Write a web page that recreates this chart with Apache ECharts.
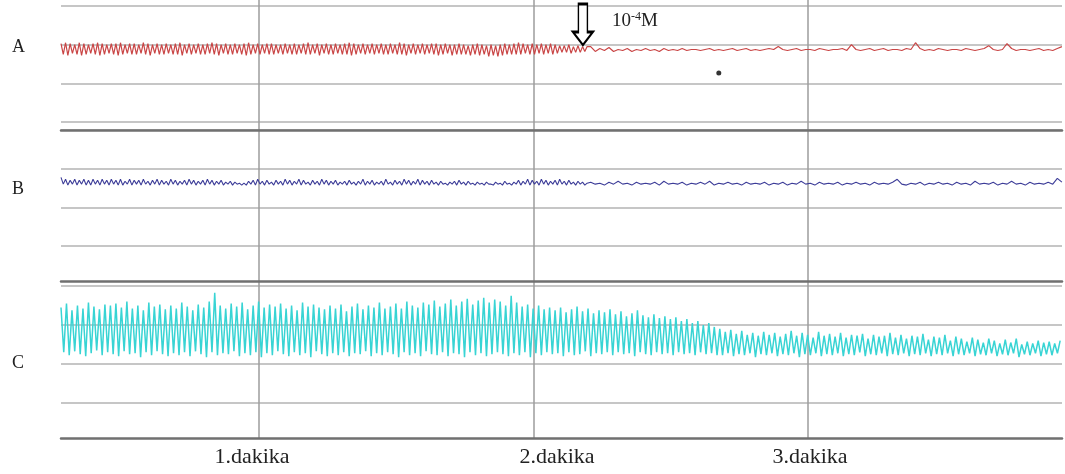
<!DOCTYPE html>
<html>
<head>
<meta charset="utf-8">
<title>A B C kayıt</title>
<script src="https://cdn.jsdelivr.net/npm/echarts@6.0.0/dist/echarts.min.js"></script>
<style>
  html, body { margin: 0; padding: 0; background: #fff; }
  #main { width: 1065px; height: 474px; }
</style>
</head>
<body>
<div id="main"></div>
<script>
// zaman ekseni (saniye)
var tStart = 16.72, tEnd = 235.52;
var tSwitch = 132.5;           // ilacın verildiği andan sonra daha seyrek örnekleme
var stepFast = 0.5, stepSlow = 1, stepC = 0.6;
var minuteTicks = [60, 120, 180];
var minuteLabels = ['1.dakika', '2.dakika', '3.dakika'];
var panelNames = ['A', 'B', 'C'];

// A kaydı (kırmızı)
var aFast = [
  81,70,82,69,81,71,80,70,82,69,81,70,80,71,81,70,82,69,81,70,
  80,71,81,70,81,69,82,70,80,71,81,70,81,70,80,71,82,70,81,69,
  80,71,81,70,80,70,81,71,80,70,81,70,82,69,80,71,81,70,80,71,
  81,70,80,70,81,71,82,70,81,69,80,71,81,70,80,70,81,71,80,70,
  81,69,82,70,80,71,81,70,80,71,81,70,81,70,80,71,80,70,81,71,
  80,70,81,70,80,71,81,70,82,70,80,71,81,69,80,71,81,70,80,70,
  81,71,80,70,81,70,82,69,81,70,80,71,81,70,80,71,81,70,80,71,
  81,70,80,70,81,71,80,70,82,70,81,69,80,71,81,70,80,71,81,70,
  80,71,81,70,81,69,80,70,81,71,80,69,80,70,81,70,80,70,79,69,
  80,70,81,69,80,70,79,68,80,69,79,68,80,69,81,70,80,70,81,70,
  82,70,81,71,80,70,81,70,80,71,81,70,80,71,81,70,80,71,79,72,
  79,72,80,71,78,72,79,72,78,73,78
];
var aSlow = [
  78,73,76,74,77,73,75,74,76,73,75,74,76,74,75,73,76,74,75,74,
  76,74,75,75,74,75,76,74,75,74,75,76,74,75,76,74,75,74,75,76,
  75,78,75,74,75,76,74,75,75,74,76,75,74,75,75,76,74,80,75,74,
  75,76,74,75,76,74,75,75,74,76,75,82,76,74,75,74,76,75,74,75,
  75,74,76,75,74,75,76,79,75,74,75,81,76,74,75,75,74,75,76,74,
  75,74,76,78
];

// B kaydı (lacivert)
var bFast = [
  71,64,69,63,68,64,69,63,68,64,69,63,68,63,69,64,68,63,69,64,
  68,63,69,64,68,63,69,63,67,64,69,63,68,64,68,63,69,64,67,63,
  68,64,69,63,68,64,67,63,69,64,68,63,67,64,68,63,69,64,68,63,
  67,64,68,63,69,64,68,63,67,64,68,63,66,64,67,63,66,64,65,63,
  65,63,67,64,68,63,69,64,67,63,68,64,66,63,68,64,67,63,69,64,
  68,63,67,64,69,63,68,64,66,63,68,64,67,63,69,64,68,63,67,64,
  68,63,66,64,67,63,68,64,66,63,67,64,69,63,67,64,68,63,66,64,
  67,63,69,64,66,63,68,64,67,63,69,64,68,63,67,64,69,63,68,64,
  67,63,68,64,66,63,67,64,65,63,66,64,67,63,68,64,66,63,67,64,
  65,63,66,64,65,63,66,64,64,63,66,64,65,63,67,64,65,63,66,64,
  68,63,67,64,69,63,68,64,67,63,69,64,68,63,67,64,68,63,69,64,
  67,63,68,64,66,63,67,64,66,63,65
];
var bSlow = [
  66,64,65,63,66,64,67,64,65,63,66,64,65,64,66,63,67,64,65,64,
  66,63,65,64,66,64,67,63,65,64,66,64,65,63,66,64,65,64,66,63,
  65,64,66,63,65,64,67,64,65,63,66,64,65,64,66,63,65,64,66,64,
  65,63,66,64,65,64,66,69,64,63,65,64,66,63,65,64,66,64,65,63,
  66,64,65,63,67,64,65,64,66,63,65,64,67,64,65,63,66,64,65,64,
  66,64,70,66
];

// C kaydı (camgöbeği)
var cValues = [
  98,52,102,49,95,53,100,50,97,48,103,51,99,54,96,49,101,52,100,50,
  102,48,98,53,104,50,97,51,100,47,95,52,103,49,99,53,101,50,96,48,
  100,51,97,49,103,52,99,48,95,53,101,50,98,47,104,52,113,49,100,51,
  97,50,102,53,99,48,103,51,96,49,100,52,104,47,98,51,101,49,99,53,
  102,50,97,48,100,52,95,49,103,51,99,47,101,53,98,50,96,48,100,51,
  97,49,101,52,94,48,99,51,102,50,96,53,100,48,98,51,103,49,97,52,
  99,50,102,47,97,52,104,49,100,51,98,48,103,53,101,50,105,49,99,52,
  102,48,106,51,100,50,104,47,107,52,101,49,105,51,108,48,103,50,106,52,
  104,50,100,48,110,51,103,49,99,52,101,47,97,51,100,49,96,52,98,50,
  95,51,98,48,93,52,96,49,99,50,94,53,97,48,92,51,95,50,93,52,
  96,49,91,52,94,50,89,51,92,48,95,52,90,50,88,49,91,52,87,50,
  89,51,86,49,88,52,84,50,86,51,82,49,84,52,80,50,82,51,78,49,
  76,49,73,51,75,48,71,50,74,49,70,51,72,47,69,50,73,49,70,51,
  72,48,68,50,71,49,74,51,69,47,72,50,70,49,67,51,73,48,69,50,
  71,49,68,51,72,48,67,50,70,49,69,52,71,48,66,50,70,49,68,51,
  69,48,72,50,67,49,70,51,66,48,69,50,68,49,71,51,65,48,68,50,
  67,49,70,51,64,48,68,50,66,49,63,51,67,48,65,50,62,49,66,51,
  64,48,61,50,65,49,62,51,66,47,60,50,63,49,61,51,64,48,62,50,
  63,49,61,51,64
];

// ilaç uygulaması (ok) ve işaret noktası
var drugTime = 130.8, drugValue = 79.7, drugText = ['10', '-4', 'M'];
var noteTime = 142.2, noteValue = 104.5;
var dotPoint = [[160.5, 50.7]];

function toSeries(values, t0, step) {
  return values.map(function (v, i) { return [t0 + i * step, v]; });
}

var myChart = echarts.init(document.getElementById('main'));

var gridLine = '#c6c6c6';
var darkLine = '#707070';
var grids = [
  { left: 61, right: 3, top: 6, height: 116 },
  { left: 61, right: 3, top: 130, height: 116 },
  { left: 61, right: 3, top: 286, height: 117 },
  { left: 61, right: 3, top: 0, height: 438 }
];

// panel alt çizgileri (koyu), ızgaranın biraz altında
var xAxes = [0, 1, 2].map(function (i) {
  return {
    type: 'value', gridIndex: i, min: tStart, max: tEnd,
    offset: i === 0 ? 8 : 35,
    axisLine: { show: i !== 2, onZero: false, lineStyle: { color: darkLine, width: 2.5 } },
    axisTick: { show: false }, axisLabel: { show: false }, splitLine: { show: false },
    z: 5
  };
});
xAxes.push({
  type: 'value', gridIndex: 3, min: tStart, max: tEnd,
  axisLine: { show: true, onZero: false, lineStyle: { color: darkLine, width: 2.5 } },
  axisTick: { show: false, customValues: minuteTicks },
  splitLine: { show: true, lineStyle: { color: '#9c9c9c', width: 1.5 } },
  axisLabel: {
    customValues: minuteTicks,
    margin: 8,
    formatter: function (v) {
      var k = minuteTicks.indexOf(v);
      return '{l' + k + '|' + minuteLabels[k] + '}';
    },
    rich: {
      l0: { fontFamily: 'Liberation Serif', fontSize: 22, color: '#222', padding: [0, 14, 0, 0] },
      l1: { fontFamily: 'Liberation Serif', fontSize: 22, color: '#222', padding: [0, 0, 0, 47] },
      l2: { fontFamily: 'Liberation Serif', fontSize: 22, color: '#222', padding: [0, 0, 0, 4] }
    }
  }
});

var yAxes = [0, 1, 2].map(function (i) {
  return {
    type: 'value', gridIndex: i, min: 0, max: 120, interval: 40,
    axisLine: { show: false }, axisTick: { show: false }, axisLabel: { show: false },
    splitLine: { lineStyle: { color: gridLine, width: 2 } }
  };
});
yAxes.push({ type: 'value', gridIndex: 3, show: false, min: 0, max: 1 });

var lineBase = { type: 'line', symbol: 'none', showSymbol: false, animation: false, sampling: false };

var option = {
  animation: false,
  grid: grids,
  xAxis: xAxes,
  yAxis: yAxes,
  graphic: panelNames.map(function (n, i) {
    return {
      type: 'text', left: 12, top: [38, 180, 354][i],
      style: { text: n, fontFamily: 'Liberation Serif', fontSize: 18, fill: '#222' }
    };
  }),
  series: [
    Object.assign({}, lineBase, {
      name: 'A', xAxisIndex: 0, yAxisIndex: 0,
      data: toSeries(aFast, tStart, stepFast).concat(toSeries(aSlow, tSwitch, stepSlow)),
      lineStyle: { color: '#c94545', width: 1.2 },
      markPoint: {
        silent: true,
        data: [
          {
            coord: [drugTime, drugValue],
            symbol: 'path://M5.5,0 L14.5,0 L14.5,28 L20,28 L10,41 L0,28 L5.5,28 Z',
            symbolSize: [20, 41], symbolOffset: [0, '-50%'],
            itemStyle: { color: '#fff', borderColor: '#000', borderWidth: 2 },
            label: { show: false }
          },
          {
            coord: [noteTime, noteValue], symbol: 'circle', symbolSize: 0,
            label: {
              show: true, position: 'inside',
              formatter: '{n|' + drugText[0] + '}{s|' + drugText[1] + '}{n|' + drugText[2] + '}',
              rich: {
                n: { fontFamily: 'Liberation Serif', fontSize: 19, color: '#222' },
                s: { fontFamily: 'Liberation Serif', fontSize: 12, color: '#222', padding: [0, 0, 9, 0] }
              }
            }
          }
        ]
      }
    }),
    {
      type: 'scatter', xAxisIndex: 0, yAxisIndex: 0, data: dotPoint,
      symbolSize: 5, itemStyle: { color: '#000' }, animation: false
    },
    Object.assign({}, lineBase, {
      name: 'B', xAxisIndex: 1, yAxisIndex: 1,
      data: toSeries(bFast, tStart, stepFast).concat(toSeries(bSlow, tSwitch, stepSlow)),
      lineStyle: { color: '#3c3c98', width: 1.1 }
    }),
    Object.assign({}, lineBase, {
      name: 'C', xAxisIndex: 2, yAxisIndex: 2,
      data: toSeries(cValues, tStart, stepC),
      lineStyle: { color: '#38d4d4', width: 1.5 }
    })
  ]
};

myChart.setOption(option);
</script>
</body>
</html>
